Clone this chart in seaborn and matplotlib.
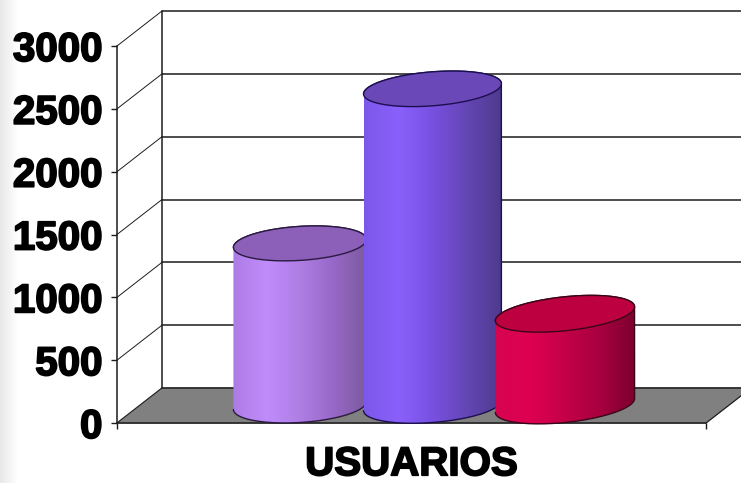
import numpy as np
import pandas
import seaborn as sns
import matplotlib
matplotlib.use('Agg')
import matplotlib.pyplot as plt
import matplotlib.patheffects as pe
from matplotlib.colors import LinearSegmentedColormap
from matplotlib.patches import PathPatch
from matplotlib.path import Path
from matplotlib.transforms import Affine2D, IdentityTransform

# values
series = ['serie 1', 'serie 2', 'serie 3']
usuarios = [1290, 2520, 730]
y_ticks = [0, 500, 1000, 1500, 2000, 2500, 3000]
x_label = 'USUARIOS'

side_colors = [
    ['#ae7ce6', '#c08cfa', '#ae7ee4', '#9868c8', '#7c5a9e'],
    ['#7c58ea', '#8a60fc', '#7850e0', '#6446b4', '#4e3a8e'],
    ['#d80450', '#de0052', '#c40048', '#a80040', '#7c002e'],
]
top_colors = ['#8c5fb8', '#6a48b8', '#bd0040']
edge_colors = ['#2a1a40', '#1c0f50', '#3c0418']

W, H = 741, 483
DEPTH = (45, 35)      # px, front plane to back wall
ELL_B = 17            # px, half height of the cylinder ellipses
SHEAR = [0.06, 0.075, 0.1]
PERSPECTIVE = [0.985, 1.02, 1.03]   # the cylinders widen a little to the right

sns.set_style('white')
plt.rcParams['font.family'] = ['Liberation Sans', 'DejaVu Sans']
ink = '#1c1c1c'
heavy = [pe.withStroke(linewidth=1.3, foreground='black')]

fig = plt.figure(figsize=(W / 100, H / 100), dpi=100)

# pale fade down the left side of the screenshot
ax_bg = fig.add_axes([0, 0, 1, 1], zorder=-1)
ax_bg.imshow(np.clip(np.linspace(0.91, 1.06, 32), 0, 1).reshape(1, -1), cmap='gray', vmin=0, vmax=1,
             extent=[0, 32, 0, 1], aspect='auto')
ax_bg.set_xlim(0, W)
ax_bg.axis('off')

ax = fig.add_axes([117 / W, (H - 423) / H, 589 / W, 377 / H])
ax.patch.set_alpha(0)

df = pandas.DataFrame({'serie': series, 'usuarios': usuarios})
sns.barplot(data=df, x='serie', y='usuarios', order=series, width=1.02, ax=ax)
bars = list(ax.patches)
xlim = (-1.211, 3.234)
ax.set_xlim(*xlim)
ax.set_ylim(0, 3000)

back = ax.transData + Affine2D().translate(*DEPTH)
mid = ax.transData + Affine2D().translate(DEPTH[0] / 2, DEPTH[1] / 2)

# floor
fx0, fx1 = xlim
floor = np.vstack([ax.transData.transform([(fx0, 0), (fx1, 0)]),
                   back.transform([(fx1, 0), (fx0, 0)])])
ax.fill(floor[:, 0], floor[:, 1], color='#808080', transform=IdentityTransform(), clip_on=False, zorder=1)
ax.plot(floor[1:3, 0], floor[1:3, 1], color=ink, lw=0.8, transform=IdentityTransform(), clip_on=False, zorder=1)

# walls
for v in y_ticks:
    ax.plot([fx0, fx1], [v, v], color=ink, lw=1.1, transform=back, clip_on=False, zorder=1.5)
    a = ax.transData.transform((fx0, v))
    b = back.transform((fx0, v))
    ax.plot([a[0], b[0]], [a[1], b[1]], color=ink, lw=0.7, transform=IdentityTransform(), clip_on=False, zorder=1.5)
ax.plot([fx0, fx0], [0, 3000], color=ink, lw=1.1, transform=back, clip_on=False, zorder=1.5)


def ellipse(cx, cy, a, slope, t):
    return np.column_stack([cx + a * np.cos(t), cy + ELL_B * np.sin(t) + slope * a * np.cos(t)])


# cylinders, built on the bars seaborn drew
for i, bar in enumerate(bars):
    bar.set_visible(False)
    (x0, y0), (x1, y1) = mid.transform([(bar.get_x(), 0), (bar.get_x() + bar.get_width(), bar.get_height())])
    cx = (x0 + x1) / 2
    a = (x1 - x0) / 2 * PERSPECTIVE[i]
    z = 3 + i

    low = ellipse(cx, y0, a, SHEAR[i], np.linspace(np.pi, 2 * np.pi, 80))
    top_back = ellipse(cx, y1, a, SHEAR[i], np.linspace(0, np.pi, 80))
    body = np.vstack([low, top_back, low[:1]])
    clip = Path(body)

    cmap = LinearSegmentedColormap.from_list('side', side_colors[i])
    im = ax.imshow(np.linspace(0, 1, 200).reshape(1, -1), cmap=cmap, aspect='auto',
                   extent=[cx - a, cx + a, y0 - 40, y1 + 40],
                   transform=IdentityTransform(), zorder=z)
    im.set_clip_box(fig.bbox)
    im.set_clip_path(clip, IdentityTransform())

    lid = ellipse(cx, y1, a, SHEAR[i], np.linspace(0, 2 * np.pi, 160))
    ax.add_patch(PathPatch(Path(lid), facecolor=top_colors[i], edgecolor=edge_colors[i], lw=1.0,
                           transform=IdentityTransform(), clip_on=False, zorder=z + 0.2))
    ax.plot(body[:-1, 0], body[:-1, 1], color=edge_colors[i], lw=1.0, transform=IdentityTransform(),
            clip_on=False, zorder=z + 0.1)

ax.set_xlim(*xlim)
ax.set_ylim(0, 3000)

for side in ['top', 'right']:
    ax.spines[side].set_visible(False)
for side in ['left', 'bottom']:
    ax.spines[side].set_color(ink)
    ax.spines[side].set_linewidth(1.1)
    ax.spines[side].set_zorder(2)

ax.set_yticks(y_ticks)
ax.set_xticks(list(xlim), ['', ''])
ax.tick_params(axis='both', direction='out', length=4.5, width=1.0, color=ink, left=True, bottom=True)
ax.tick_params(axis='y', pad=6)
for label in ax.get_yticklabels():
    label.set_fontsize(29)
    label.set_fontweight('bold')
    label.set_color('black')
    label.set_path_effects(heavy)

ax.set_ylabel('')
ax.set_xlabel(x_label, fontsize=29, fontweight='bold', color='black', labelpad=8, path_effects=heavy)

fig.savefig('out.png', dpi=100)
